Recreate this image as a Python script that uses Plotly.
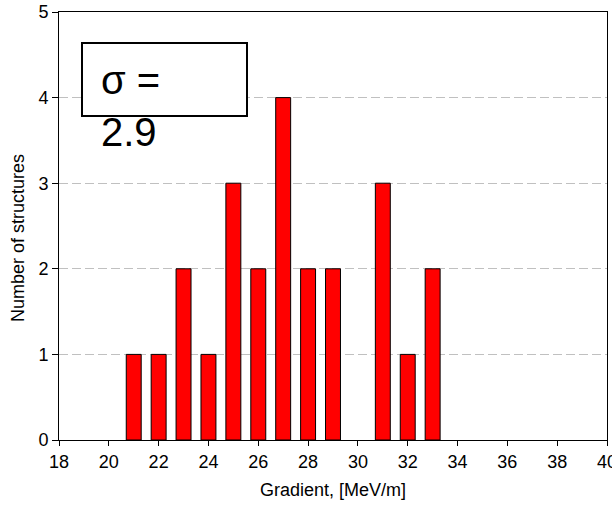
import plotly.graph_objects as go

gradients = [21, 22, 23, 24, 25, 26, 27, 28, 29, 31, 32, 33]
counts = [1, 1, 2, 1, 3, 2, 4, 2, 2, 3, 1, 2]
x_ticks = list(range(18, 41, 2))
y_ticks = [0, 1, 2, 3, 4, 5]
sigma_text = "σ =<br>2.9"

FONT = "Liberation Sans, Arial, sans-serif"

W, H = 612, 511
L, R, T, B = 59, 5, 12, 71
PW, PH = W - L - R, H - T - B


def px_x(page_x):
    return (page_x - L) / PW


def px_y(page_y):
    return (H - B - page_y) / PH


fig = go.Figure()
fig.add_trace(go.Bar(
    x=gradients, y=counts, width=0.6,
    marker=dict(color="#FF0000", line=dict(color="black", width=1)),
    showlegend=False,
))

fig.update_layout(
    width=W, height=H,
    margin=dict(l=L, r=R, t=T, b=B, autoexpand=False),
    paper_bgcolor="white", plot_bgcolor="white",
    font=dict(family=FONT, size=18, color="black"),
    xaxis=dict(
        range=[18, 40], tickvals=x_ticks, ticktext=[str(v) for v in x_ticks],
        ticks="outside", ticklen=5, tickcolor="black",
        ticklabeloverflow="allow",
        showline=True, linecolor="black", linewidth=1, mirror=True,
        showgrid=False, zeroline=False,
        title=dict(text="Gradient, [MeV/m]", font=dict(size=18), standoff=12),
    ),
    yaxis=dict(
        range=[0, 5], tickvals=y_ticks,
        ticks="outside", ticklen=6, tickcolor="black",
        ticklabeloverflow="allow",
        showline=True, linecolor="black", linewidth=1, mirror=True,
        showgrid=True, gridcolor="#c0c0c0", gridwidth=1, griddash="9px,4px",
        zeroline=False,
    ),
    shapes=[dict(
        type="rect", xref="paper", yref="paper",
        x0=px_x(82), x1=px_x(247), y0=px_y(116), y1=px_y(43),
        line=dict(color="black", width=2), fillcolor="white", layer="above",
    )],
    annotations=[
        dict(text=sigma_text, xref="paper", yref="paper", x=px_x(100), y=px_y(57),
             xanchor="left", yanchor="top", align="left", showarrow=False,
             borderpad=0, font=dict(size=40, color="black", family=FONT)),
        dict(text="Number of structures", xref="paper", yref="paper",
             x=px_x(18), y=px_y(238), xanchor="center", yanchor="middle",
             textangle=-90, showarrow=False, borderpad=0,
             font=dict(size=18, color="black", family=FONT)),
    ],
)

fig.write_html(
    "out.html",
    config={"displayModeBar": False},
    post_script="document.body.style.margin='0';document.body.style.overflow='hidden';",
)
